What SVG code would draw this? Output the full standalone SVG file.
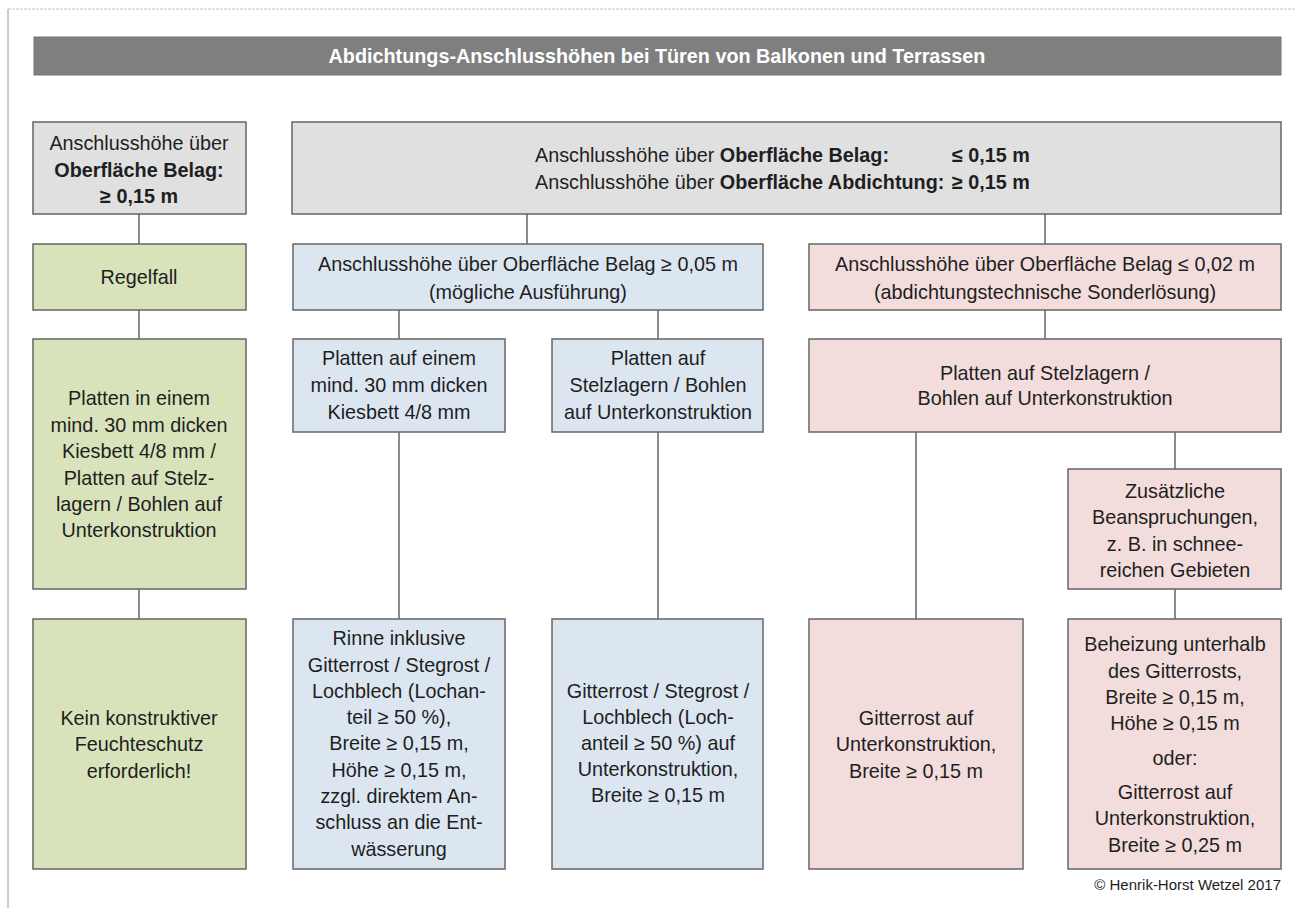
<svg xmlns="http://www.w3.org/2000/svg" width="1296" height="908" viewBox="0 0 1296 908">
<style>
text{font-family:"Liberation Sans",Arial,sans-serif;font-size:19.8px;fill:#1e1e1e;text-anchor:middle}
.b{font-weight:bold}
.box{stroke:#666;stroke-width:1.5}
.g{fill:#d8e3bb}.bl{fill:#dce6f1}.p{fill:#f2dcdc}.gr{fill:#e0e0e0}
.c{stroke:#666;stroke-width:1.5;fill:none}
</style>
<rect width="1296" height="908" fill="#fff"/>
<line x1="8" y1="9" x2="1296" y2="9" stroke="#c8c8c8" stroke-width="1" stroke-dasharray="3,1"/>
<line x1="8" y1="9" x2="8" y2="908" stroke="#9a9a9a" stroke-width="1"/>
<g id="title">
<rect x="34" y="37" width="1247" height="38" fill="#7f7f7f" stroke="#777" stroke-width="1"/>
<text x="657" y="63" class="b" style="fill:#fff">Abdichtungs-Anschlusshöhen bei Türen von Balkonen und Terrassen</text>
</g>
<g id="connectors">
<path class="c" d="M139 214V244M139 310V339M139 589V619"/>
<path class="c" d="M527 214V244M1045 214V244"/>
<path class="c" d="M399 310V339M658 310V339M399 432V619M658 432V619"/>
<path class="c" d="M1045 310V339M916 432V619M1175 432V469M1175 589V619"/>
</g>
<g id="n-left-top">
<rect class="box gr" x="33" y="122" width="213" height="92"/>
<text x="139" y="150">Anschlusshöhe über</text>
<text x="139" y="177" class="b">Oberfläche Belag:</text>
<text x="139" y="203" class="b">≥ 0,15 m</text>
</g>
<g id="n-top-wide">
<rect class="box gr" x="292" y="122" width="989" height="92"/>
<text x="535" y="162" style="text-anchor:start">Anschlusshöhe über <tspan class="b">Oberfläche Belag:</tspan></text>
<text x="952" y="162" class="b" style="text-anchor:start">≤ 0,15 m</text>
<text x="535" y="189" style="text-anchor:start">Anschlusshöhe über <tspan class="b">Oberfläche Abdichtung:</tspan></text>
<text x="952" y="189" class="b" style="text-anchor:start">≥ 0,15 m</text>
</g>
<g id="n-regelfall">
<rect class="box g" x="33" y="244" width="213" height="66"/>
<text x="139" y="284">Regelfall</text>
</g>
<g id="n-green-mid">
<rect class="box g" x="33" y="339" width="213" height="250"/>
<text x="139" y="405">Platten in einem</text>
<text x="139" y="432">mind. 30 mm dicken</text>
<text x="139" y="458">Kiesbett 4/8 mm /</text>
<text x="139" y="485">Platten auf Stelz-</text>
<text x="139" y="511">lagern / Bohlen auf</text>
<text x="139" y="537">Unterkonstruktion</text>
</g>
<g id="n-green-bottom">
<rect class="box g" x="33" y="619" width="213" height="250"/>
<text x="139" y="725">Kein konstruktiver</text>
<text x="139" y="751">Feuchteschutz</text>
<text x="139" y="778">erforderlich!</text>
</g>
<g id="n-blue-head">
<rect class="box bl" x="293" y="244" width="470" height="66"/>
<text x="528" y="271">Anschlusshöhe über Oberfläche Belag ≥ 0,05 m</text>
<text x="528" y="299">(mögliche Ausführung)</text>
</g>
<g id="n-blue-kies">
<rect class="box bl" x="293" y="339" width="212" height="93"/>
<text x="399" y="365">Platten auf einem</text>
<text x="399" y="392">mind. 30 mm dicken</text>
<text x="399" y="419">Kiesbett 4/8 mm</text>
</g>
<g id="n-blue-stelz">
<rect class="box bl" x="552" y="339" width="211" height="93"/>
<text x="658" y="365">Platten auf</text>
<text x="658" y="392">Stelzlagern / Bohlen</text>
<text x="658" y="419">auf Unterkonstruktion</text>
</g>
<g id="n-blue-rinne">
<rect class="box bl" x="293" y="619" width="212" height="250"/>
<text x="399" y="645">Rinne inklusive</text>
<text x="399" y="672">Gitterrost / Stegrost /</text>
<text x="399" y="698">Lochblech (Lochan-</text>
<text x="399" y="724">teil ≥ 50 %),</text>
<text x="399" y="750">Breite ≥ 0,15 m,</text>
<text x="399" y="777">Höhe ≥ 0,15 m,</text>
<text x="399" y="803">zzgl. direktem An-</text>
<text x="399" y="829">schluss an die Ent-</text>
<text x="399" y="856">wässerung</text>
</g>
<g id="n-blue-gitter">
<rect class="box bl" x="552" y="619" width="211" height="250"/>
<text x="658" y="698">Gitterrost / Stegrost /</text>
<text x="658" y="724">Lochblech (Loch-</text>
<text x="658" y="750">anteil ≥ 50 %) auf</text>
<text x="658" y="776">Unterkonstruktion,</text>
<text x="658" y="802">Breite ≥ 0,15 m</text>
</g>
<g id="n-pink-head">
<rect class="box p" x="809" y="244" width="472" height="66"/>
<text x="1045" y="271">Anschlusshöhe über Oberfläche Belag ≤ 0,02 m</text>
<text x="1045" y="299">(abdichtungstechnische Sonderlösung)</text>
</g>
<g id="n-pink-stelz">
<rect class="box p" x="809" y="339" width="472" height="93"/>
<text x="1045" y="380">Platten auf Stelzlagern /</text>
<text x="1045" y="405">Bohlen auf Unterkonstruktion</text>
</g>
<g id="n-pink-zusatz">
<rect class="box p" x="1068" y="469" width="213" height="120"/>
<text x="1175" y="498">Zusätzliche</text>
<text x="1175" y="524">Beanspruchungen,</text>
<text x="1175" y="551">z. B. in schnee-</text>
<text x="1175" y="577">reichen Gebieten</text>
</g>
<g id="n-pink-gitter">
<rect class="box p" x="809" y="619" width="214" height="250"/>
<text x="916" y="725">Gitterrost auf</text>
<text x="916" y="751">Unterkonstruktion,</text>
<text x="916" y="778">Breite ≥ 0,15 m</text>
</g>
<g id="n-pink-heiz">
<rect class="box p" x="1068" y="619" width="213" height="250"/>
<text x="1175" y="651">Beheizung unterhalb</text>
<text x="1175" y="678">des Gitterrosts,</text>
<text x="1175" y="704">Breite ≥ 0,15 m,</text>
<text x="1175" y="730">Höhe ≥ 0,15 m</text>
<text x="1175" y="765">oder:</text>
<text x="1175" y="799">Gitterrost auf</text>
<text x="1175" y="825">Unterkonstruktion,</text>
<text x="1175" y="852">Breite ≥ 0,25 m</text>
</g>
<text x="1281" y="890" style="text-anchor:end;font-size:15px">© Henrik-Horst Wetzel 2017</text>
</svg>
